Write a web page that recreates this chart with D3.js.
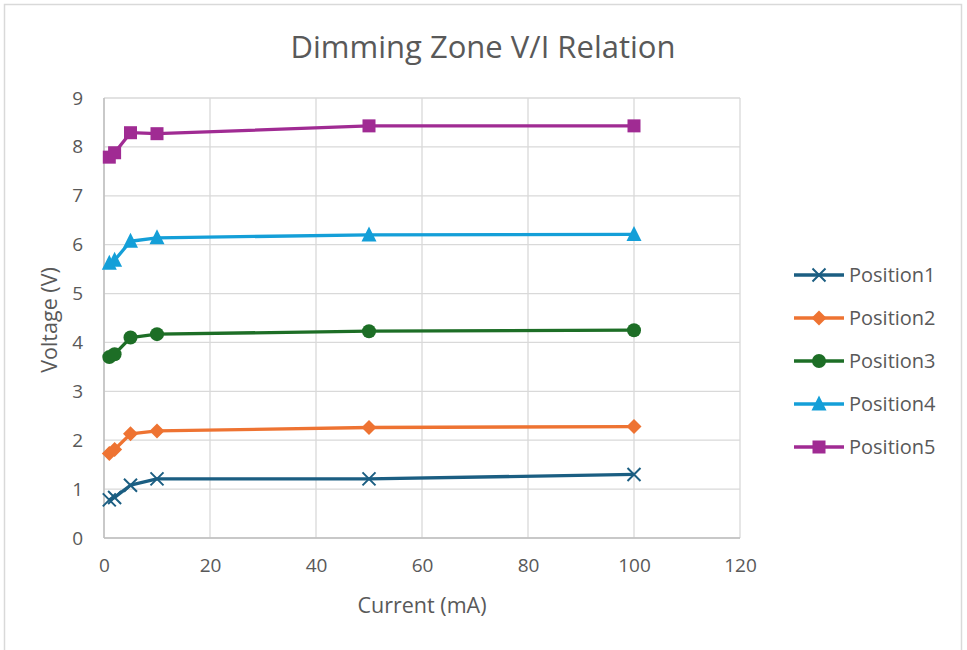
<!DOCTYPE html>
<html>
<head>
<meta charset="utf-8">
<script src="https://cdn.jsdelivr.net/npm/d3@7"></script>
<style>
  html, body { margin: 0; padding: 0; background: #fff; }
  text { font-family: "Open Sans", "Liberation Sans", sans-serif; }
</style>
</head>
<body>
<svg id="chart" width="967" height="650"></svg>
<script>
const currents = [1, 2, 5, 10, 50, 100];
const seriesNames = ["Position1", "Position2", "Position3", "Position4", "Position5"];
const position1 = [0.78, 0.83, 1.08, 1.21, 1.21, 1.30];
const position2 = [1.73, 1.81, 2.13, 2.19, 2.26, 2.28];
const position3 = [3.70, 3.76, 4.10, 4.17, 4.23, 4.25];
const position4 = [5.62, 5.68, 6.07, 6.14, 6.20, 6.21];
const position5 = [7.79, 7.88, 8.29, 8.27, 8.43, 8.43];
const seriesValues = [position1, position2, position3, position4, position5];
const colors = ["#1b5e82", "#ee7332", "#1d6e26", "#149fd8", "#a02b93"];
const markers = ["x", "diamond", "circle", "triangle", "square"];
const xTicks = [0, 20, 40, 60, 80, 100, 120];
const yTicks = [0, 1, 2, 3, 4, 5, 6, 7, 8, 9];
const titleText = "Dimming Zone V/I Relation";
const xTitle = "Current (mA)";
const yTitle = "Voltage (V)";

(function () {
const svg = d3.select("#chart");
svg.append("rect").attr("x", 4.5).attr("y", 4.5).attr("width", 957).attr("height", 660)
  .attr("fill", "#fff").attr("stroke", "#d9d9d9").attr("stroke-width", 1.5);

const pLeft = 104, pRight = 740, pTop = 98, pBottom = 538;
const x = d3.scaleLinear().domain([0, 120]).range([pLeft, pRight]);
const y = d3.scaleLinear().domain([0, 9]).range([pBottom, pTop]);

const g = svg.append("g");
g.selectAll("line.hg").data(yTicks).join("line")
  .attr("x1", pLeft).attr("x2", pRight).attr("y1", d => y(d)).attr("y2", d => y(d))
  .attr("stroke", "#d9d9d9").attr("stroke-width", 1.3);
g.selectAll("line.vg").data(xTicks).join("line")
  .attr("y1", pTop).attr("y2", pBottom).attr("x1", d => x(d)).attr("x2", d => x(d))
  .attr("stroke", "#d9d9d9").attr("stroke-width", 1.3);
svg.append("line").attr("x1", pLeft).attr("x2", pRight).attr("y1", y(0)).attr("y2", y(0))
  .attr("stroke", "#bfbfbf").attr("stroke-width", 1.5);
svg.append("line").attr("x1", pLeft).attr("x2", pLeft).attr("y1", pTop).attr("y2", pBottom)
  .attr("stroke", "#bfbfbf").attr("stroke-width", 1.5);

const xAxis = svg.append("g").attr("transform", `translate(0,${pBottom})`)
  .call(d3.axisBottom(x).tickValues(xTicks).tickSize(0).tickPadding(21));
const yAxis = svg.append("g").attr("transform", `translate(${pLeft},0)`)
  .call(d3.axisLeft(y).tickValues(yTicks).tickSize(0).tickPadding(21));
[xAxis, yAxis].forEach(a => {
  a.select(".domain").remove();
  a.selectAll("text").attr("fill", "#595959").attr("font-size", 19)
    .style("font-family", "'Open Sans', 'Liberation Sans', sans-serif");
});

svg.append("text").attr("x", 483).attr("y", 58).attr("text-anchor", "middle")
  .attr("font-size", 31).attr("fill", "#595959").text(titleText);
svg.append("text").attr("x", 422).attr("y", 613).attr("text-anchor", "middle")
  .attr("font-size", 21.5).attr("fill", "#595959").text(xTitle);
svg.append("text").attr("transform", "translate(57,320) rotate(-90)").attr("text-anchor", "middle")
  .attr("font-size", 21.5).attr("fill", "#595959").text(yTitle);

function drawMarker(sel, type, color, cx, cy) {
  if (type === "x") {
    const s = 6.5;
    sel.append("path").attr("d", `M${cx-s},${cy-s}L${cx+s},${cy+s}M${cx-s},${cy+s}L${cx+s},${cy-s}`)
      .attr("stroke", color).attr("stroke-width", 2).attr("fill", "none");
  } else if (type === "diamond") {
    const s = 7.5;
    sel.append("path").attr("d", `M${cx},${cy-s}L${cx+s},${cy}L${cx},${cy+s}L${cx-s},${cy}Z`).attr("fill", color);
  } else if (type === "circle") {
    sel.append("circle").attr("cx", cx).attr("cy", cy).attr("r", 7).attr("fill", color);
  } else if (type === "triangle") {
    const s = 7.5;
    sel.append("path").attr("d", `M${cx},${cy-s-1}L${cx+s},${cy+s-1}L${cx-s},${cy+s-1}Z`).attr("fill", color);
  } else if (type === "square") {
    const s = 6.5;
    sel.append("rect").attr("x", cx-s).attr("y", cy-s).attr("width", 2*s).attr("height", 2*s).attr("fill", color);
  }
}

const line = d3.line().x((d, i) => x(currents[i])).y(d => y(d));
seriesValues.forEach((vals, si) => {
  const sg = svg.append("g");
  sg.append("path").attr("d", line(vals)).attr("fill", "none")
    .attr("stroke", colors[si]).attr("stroke-width", 3.3).attr("stroke-linejoin", "round");
  vals.forEach((v, i) => drawMarker(sg, markers[si], colors[si], x(currents[i]), y(v)));
});

const legY = d3.scaleLinear().domain([0, 4]).range([275, 447]);
seriesNames.forEach((name, si) => {
  const lg = svg.append("g");
  const cy = legY(si);
  lg.append("line").attr("x1", 794).attr("x2", 844).attr("y1", cy).attr("y2", cy)
    .attr("stroke", colors[si]).attr("stroke-width", 3.3);
  drawMarker(lg, markers[si], colors[si], 819, cy);
  lg.append("text").attr("x", 849).attr("y", cy).attr("dy", "0.35em")
    .attr("font-size", 20).attr("fill", "#595959").text(name);
});
})();
</script>
</body>
</html>
